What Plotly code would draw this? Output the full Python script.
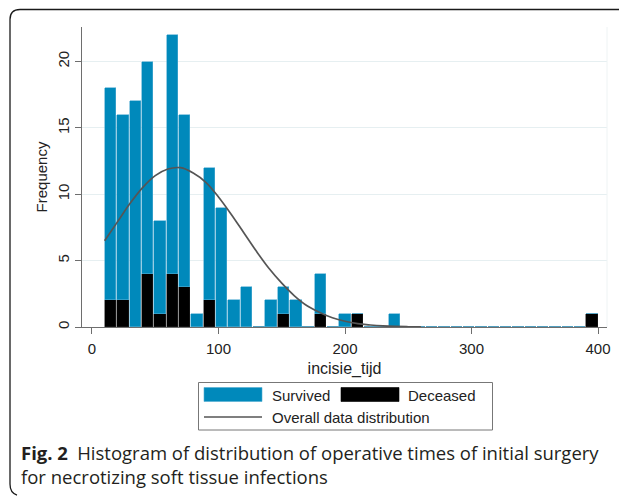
import plotly.graph_objects as go

# ---------------- data ----------------
bin_start = 10.0
bin_width = 9.75
n_bins = 40
# frequency per bin (40 bins from 10 to 400)
survived = [16, 14, 17, 16, 7, 18, 13, 1, 10, 9,
            2, 3, 0, 2, 2, 2, 0, 3, 0, 1,
            0, 0, 0, 1, 0, 0, 0, 0, 0, 0,
            0, 0, 0, 0, 0, 0, 0, 0, 0, 0]
deceased = [2, 2, 0, 4, 1, 4, 3, 0, 2, 0,
            0, 0, 0, 0, 1, 0, 0, 1, 0, 0,
            1, 0, 0, 0, 0, 0, 0, 0, 0, 0,
            0, 0, 0, 0, 0, 0, 0, 0, 0, 1]
# overall data distribution curve
curve_x = [10, 20, 30, 40, 50, 60, 70, 80, 90, 100, 110, 120, 130,
           140, 150, 160, 170, 180, 190, 200, 210, 220, 230, 240, 250, 260]
curve_y = [6.5, 7.9, 9.3, 10.5, 11.4, 11.9, 12.0, 11.6, 10.9, 9.8, 8.5, 7.1, 5.7,
           4.4, 3.3, 2.35, 1.6, 1.1, 0.7, 0.43, 0.25, 0.15, 0.08, 0.04, 0.02, 0.01]
x_ticks = [0, 100, 200, 300, 400]
y_ticks = [0, 5, 10, 15, 20]
x_title = "incisie_tijd"
y_title = "Frequency"
legend_labels = ["Survived", "Deceased", "Overall data distribution"]
caption_bold = "Fig. 2"
caption_1 = "Histogram of distribution of operative times of initial surgery"
caption_2 = "for necrotizing soft tissue infections"

# ---------------- styling ----------------
# page body has an 8px margin, so the figure is 8px smaller and everything is offset
OFF = 8
W, H = 627 - OFF, 496 - OFF
BLUE = "#0089bb"
AXIS = "#6e6e6e"
GRID = "#e6eff1"
TXT = "#222222"


def px(x):
    return (x - OFF) / W


def py(y):
    return 1 - (y - OFF) / H


centers = [bin_start + bin_width * (i + 0.5) for i in range(n_bins)]

fig = go.Figure()
fig.add_trace(go.Bar(x=centers, y=deceased, width=bin_width * 0.92,
                     marker=dict(color="black", line=dict(color="#222", width=0.5)),
                     showlegend=False, hoverinfo="skip"))
fig.add_trace(go.Bar(x=centers, y=survived, width=bin_width * 0.92,
                     marker=dict(color=BLUE, line=dict(color="#52acd2", width=0.6)),
                     showlegend=False, hoverinfo="skip"))
fig.add_trace(go.Scatter(x=curve_x, y=curve_y, mode="lines",
                         line=dict(color="#555555", width=1.7, shape="spline"),
                         showlegend=False, hoverinfo="skip"))

fig.update_layout(
    width=W, height=H, margin=dict(l=0, r=0, t=0, b=0, autoexpand=False),
    paper_bgcolor="white", plot_bgcolor="white",
    barmode="stack", bargap=0,
    font=dict(family="Liberation Sans, Arial, sans-serif", size=14, color=TXT),
    xaxis=dict(domain=[px(82), px(607)], range=[-7.9, 407.1], automargin=False,
               tickvals=x_ticks, ticks="outside", ticklen=6, tickcolor=AXIS,
               ticklabelstandoff=2,
               showline=True, linecolor=AXIS, linewidth=1, showgrid=False,
               zeroline=False, tickfont=dict(size=15, color=TXT),
               title=dict(text=x_title, font=dict(size=16, color=TXT), standoff=6)),
    yaxis=dict(domain=[py(327), py(27)], range=[0, 22.6], automargin=False,
               tickvals=y_ticks, ticks="outside", ticklen=6, tickcolor=AXIS,
               tickangle=-90,
               showline=True, linecolor=AXIS, linewidth=1, showgrid=True,
               gridcolor=GRID, gridwidth=1, zeroline=False,
               tickfont=dict(size=15, color=TXT),
               title=dict(text=y_title, font=dict(size=15, color=TXT), standoff=3)),
)

shapes = []
# faint right edge of plot region
shapes.append(dict(type="line", xref="paper", yref="paper",
                   x0=px(607), x1=px(607), y0=py(27), y1=py(327),
                   line=dict(color="#eef3f4", width=1)))
# outer rounded frame (top and left sides)
path = (f"M {px(627)},{py(9.5)} L {px(20)},{py(9.5)} "
        f"Q {px(10)},{py(9.5)} {px(10)},{py(19.5)} "
        f"L {px(10)},{py(484)} Q {px(10)},{py(493)} {px(17)},{py(495)}")
shapes.append(dict(type="path", xref="paper", yref="paper", path=path,
                   line=dict(color="#1a1a1a", width=1.3)))
# legend box
shapes.append(dict(type="rect", xref="paper", yref="paper",
                   x0=px(198.5), x1=px(492.5), y0=py(382.5), y1=py(430),
                   line=dict(color="#777777", width=1), fillcolor="white"))
# legend swatches
shapes.append(dict(type="rect", xref="paper", yref="paper",
                   x0=px(204), x1=px(262), y0=py(387.5), y1=py(401.5),
                   line=dict(color="#52acd2", width=0.6), fillcolor=BLUE))
shapes.append(dict(type="rect", xref="paper", yref="paper",
                   x0=px(341), x1=px(399), y0=py(387.5), y1=py(401.5),
                   line=dict(color="black", width=0.6), fillcolor="black"))
shapes.append(dict(type="line", xref="paper", yref="paper",
                   x0=px(204), x1=px(262), y0=py(417), y1=py(417),
                   line=dict(color="#555555", width=1.7)))
fig.update_layout(shapes=shapes)

ann = []
leg_font = dict(size=15, color=TXT)
ann.append(dict(x=px(270), y=py(395), xref="paper", yref="paper", text=legend_labels[0],
                showarrow=False, xanchor="left", yanchor="middle", font=leg_font))
ann.append(dict(x=px(406), y=py(395), xref="paper", yref="paper", text=legend_labels[1],
                showarrow=False, xanchor="left", yanchor="middle", font=leg_font))
ann.append(dict(x=px(270), y=py(417), xref="paper", yref="paper", text=legend_labels[2],
                showarrow=False, xanchor="left", yanchor="middle", font=leg_font))
cap_font = dict(family="Open Sans, Noto Sans, sans-serif", size=18.5, color="#231f20")
ann.append(dict(x=px(19), y=py(452), xref="paper", yref="paper",
                text=f"<b>{caption_bold}</b>\u2002{caption_1}",
                showarrow=False, xanchor="left", yanchor="middle", font=cap_font))
ann.append(dict(x=px(19), y=py(476), xref="paper", yref="paper",
                text=caption_2,
                showarrow=False, xanchor="left", yanchor="middle", font=cap_font))
fig.update_layout(annotations=ann)

fig.write_html("out.html")
